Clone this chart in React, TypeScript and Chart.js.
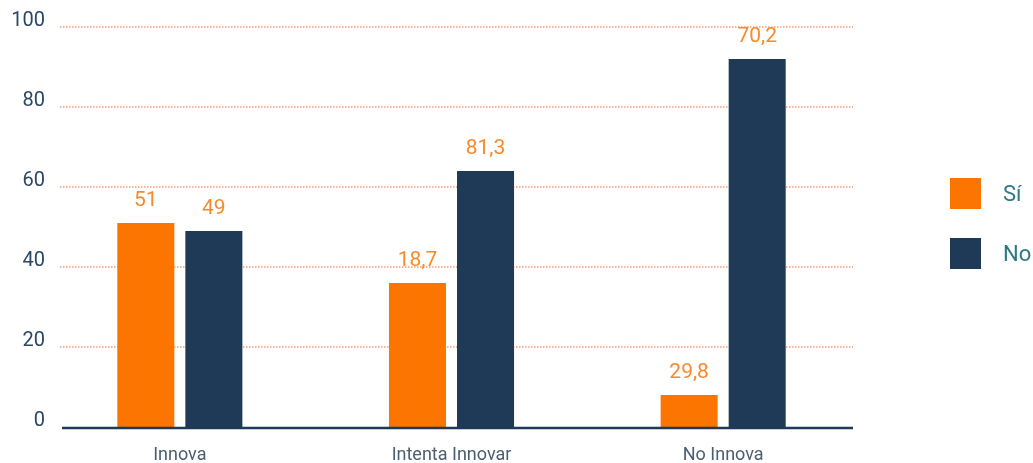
import React, { useEffect, useRef } from "react";
import { Chart, registerables } from "chart.js";

Chart.register(...registerables);

const categories = ["Innova", "Intenta Innovar", "No Innova"];
const siValues = [51, 36, 8];
const noValues = [49, 64, 92];
const siLabels = ["51", "18,7", "29,8"];
const noLabels = ["49", "81,3", "70,2"];
const seriesNames = ["Sí", "No"];
const yMin = 0;
const yMax = 100;
const yStep = 20;

const ORANGE = "#fb7500";
const NAVY = "#1e3a56";
const LABEL_ORANGE = "#f98a2c";
const FONT = "Roboto, 'Noto Sans', sans-serif";

const gridPlugin = {
  id: "dottedGrid",
  beforeDatasetsDraw(chart: any) {
    const { ctx, chartArea, scales } = chart;
    const y = scales.y;
    ctx.save();
    ctx.strokeStyle = "#f59a72";
    ctx.lineWidth = 1.5;
    ctx.setLineDash([1.5, 1.5]);
    for (let v = yMin + yStep; v <= yMax; v += yStep) {
      const py = Math.round(y.getPixelForValue(v));
      ctx.beginPath();
      ctx.moveTo(chartArea.left + 16, py);
      ctx.lineTo(chartArea.right - 6, py);
      ctx.stroke();
    }
    ctx.restore();
  },
  afterDatasetsDraw(chart: any) {
    const { ctx, chartArea, scales } = chart;
    const y = scales.y;
    const py = y.getPixelForValue(0) + 1;
    ctx.save();
    ctx.strokeStyle = NAVY;
    ctx.lineWidth = 2.5;
    ctx.beginPath();
    ctx.moveTo(chartArea.left + 18, py);
    ctx.lineTo(chartArea.right - 6, py);
    ctx.stroke();

    // value labels
    const labelSets = [siLabels, noLabels];
    ctx.fillStyle = LABEL_ORANGE;
    ctx.font = `21px ${FONT}`;
    ctx.textAlign = "center";
    ctx.textBaseline = "middle";
    chart.data.datasets.forEach((_: any, di: number) => {
      const meta = chart.getDatasetMeta(di);
      meta.data.forEach((bar: any, i: number) => {
        ctx.fillText(labelSets[di][i], bar.x, bar.y - 22);
      });
    });
    ctx.restore();
  },
};

export default function App() {
  const ref = useRef<HTMLCanvasElement>(null);

  useEffect(() => {
    if (!ref.current) return;
    const chart = new Chart(ref.current, {
      type: "bar",
      data: {
        labels: categories,
        datasets: [
          {
            label: seriesNames[0],
            data: siValues,
            backgroundColor: ORANGE,
            borderWidth: 0,
          },
          {
            label: seriesNames[1],
            data: noValues,
            backgroundColor: NAVY,
            borderWidth: 0,
          },
        ],
      },
      options: {
        animation: false,
        responsive: true,
        maintainAspectRatio: false,
        datasets: {
          bar: { categoryPercentage: 0.501, barPercentage: 0.838 },
        },
        layout: { padding: { top: 27, right: 174, left: 0, bottom: 0 } },
        plugins: {
          legend: { display: false },
          tooltip: { enabled: false },
        },
        scales: {
          x: {
            grid: { display: false, drawTicks: false },
            border: { display: false },
            ticks: {
              color: "#4b5f70",
              font: { family: FONT, size: 18 },
              padding: 18,
            },
            afterFit: (s: any) => {
              s.height = 36;
            },
          },
          y: {
            min: yMin,
            max: yMax,
            grid: { display: false, drawTicks: false },
            border: { display: false },
            ticks: {
              stepSize: yStep,
              color: "#2a4764",
              font: { family: FONT, size: 20 },
              padding: -1,
              labelOffset: -6,
            },
            afterFit: (s: any) => {
              s.width = 44;
            },
          },
        },
      },
      plugins: [gridPlugin],
    });
    return () => chart.destroy();
  }, []);

  const legendItem = (color: string, text: string, top: number) => (
    <div
      style={{
        position: "absolute",
        left: 950,
        top,
        display: "flex",
        alignItems: "center",
        height: 31,
      }}
    >
      <div style={{ width: 31, height: 31, background: color }} />
      <span
        style={{
          marginLeft: 22,
          fontFamily: FONT,
          fontSize: 22,
          color: "#2b7a82",
          lineHeight: "31px",
        }}
      >
        {text}
      </span>
    </div>
  );

  return (
    <div
      style={{
        position: "fixed",
        left: 0,
        top: 0,
        width: 1033,
        height: 463,
        background: "#ffffff",
      }}
    >
      <canvas ref={ref} />
      {legendItem(ORANGE, seriesNames[0], 178)}
      {legendItem(NAVY, seriesNames[1], 238)}
    </div>
  );
}
